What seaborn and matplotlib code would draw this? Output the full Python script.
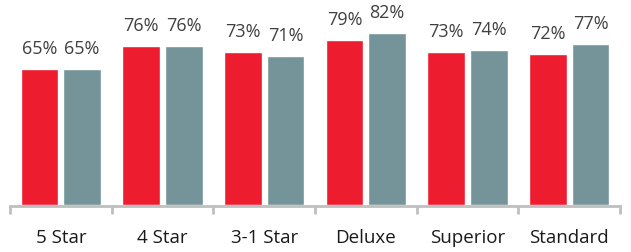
import matplotlib
matplotlib.use("Agg")
import matplotlib.pyplot as plt
import seaborn as sns
import pandas as pd
import numpy as np

categories = ["5 Star", "4 Star", "3-1 Star", "Deluxe", "Superior", "Standard"]
series_names = ["Series A", "Series B"]
series_a = [65, 76, 73, 79, 73, 72]
series_b = [65, 76, 71, 82, 74, 77]
colors = ["#ED1C2E", "#749499"]

df = pd.DataFrame({
    "category": categories * 2,
    "series": [series_names[0]] * len(categories) + [series_names[1]] * len(categories),
    "value": series_a + series_b,
})

sns.set_theme(style="white")
plt.rcParams["font.family"] = ["Open Sans", "DejaVu Sans"]

fig = plt.figure(figsize=(6.31, 2.52), dpi=100)
ax = fig.add_axes([10 / 631, 47 / 252, 610 / 631, 205 / 252])

sns.barplot(data=df, x="category", y="value", hue="series", order=categories,
            hue_order=series_names, palette=colors, width=0.84, gap=0.12,
            saturation=1, ax=ax, legend=False, errorbar=None)

for cont in ax.containers:
    ax.bar_label(cont, labels=[f"{v:.0f}%" for v in cont.datavalues],
                 padding=8, fontsize=13, color="#404040")

ax.set_xlim(-0.5, len(categories) - 0.5)
ax.set_ylim(0, 98)
ax.set_xlabel("")
ax.set_ylabel("")
ax.set_yticks([])
for s in ["top", "left", "right"]:
    ax.spines[s].set_visible(False)
ax.spines["bottom"].set_color("#BFBFBF")
ax.spines["bottom"].set_linewidth(2)
ax.spines["bottom"].set_position(("outward", 1))

ax.set_xticks(np.arange(len(categories)))
ax.set_xticklabels(categories, fontsize=13.5, color="#1A1A1A")
ax.set_xticks(np.arange(-0.5, len(categories)), minor=True)
ax.tick_params(axis="x", which="major", length=0, pad=16)
ax.tick_params(axis="x", which="minor", length=6, width=2, color="#BFBFBF",
               direction="out", bottom=True)

fig.savefig("out.png", dpi=100)
